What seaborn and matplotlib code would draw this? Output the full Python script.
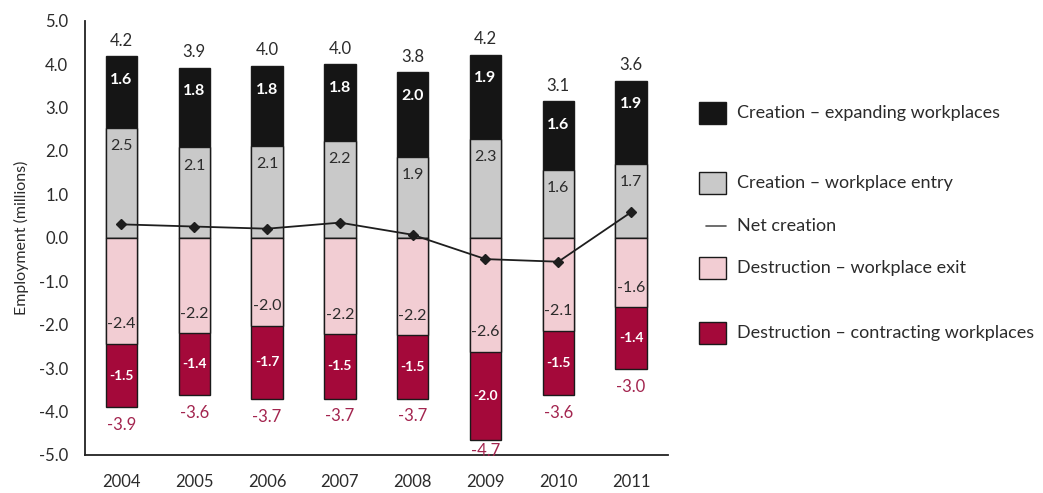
import matplotlib
matplotlib.use("Agg")
import matplotlib.pyplot as plt
from matplotlib.patches import Rectangle
from matplotlib.lines import Line2D
import numpy as np
import pandas as pd
import seaborn as sns

# Job flows by year (millions of jobs)
years = ["2004", "2005", "2006", "2007", "2008", "2009", "2010", "2011"]
creation_entry = [2.54, 2.08, 2.12, 2.24, 1.86, 2.28, 1.56, 1.70]
creation_expanding = [1.64, 1.84, 1.84, 1.76, 1.96, 1.94, 1.58, 1.92]
destruction_exit = [-2.44, -2.20, -2.03, -2.22, -2.24, -2.62, -2.14, -1.60]
destruction_contracting = [-1.46, -1.42, -1.68, -1.48, -1.46, -2.04, -1.48, -1.42]
net_creation = [0.31, 0.26, 0.21, 0.35, 0.07, -0.49, -0.55, 0.59]

legend_labels = [
    "Creation \u2013 expanding workplaces",
    "Creation \u2013 workplace entry",
    "Net creation",
    "Destruction \u2013 workplace exit",
    "Destruction \u2013 contracting workplaces",
]
y_ticks = [5.0, 4.0, 3.0, 2.0, 1.0, 0.0, -1.0, -2.0, -3.0, -4.0, -5.0]

BLACK = "#151515"
GREY = "#c9c9c9"
PINK = "#f2cdd3"
CRIMSON = "#a4093a"
NEG_TEXT = "#a3254f"
TEXT = "#2b2b2b"

sns.set_theme(style="white")
plt.rcParams["font.family"] = ["Lato", "DejaVu Sans"]

df = pd.DataFrame({
    "year": years,
    "entry": creation_entry,
    "expanding": creation_expanding,
    "exit": destruction_exit,
    "contracting": destruction_contracting,
    "net": net_creation,
})
df["pos_total"] = df["entry"] + df["expanding"]
df["neg_total"] = df["exit"] + df["contracting"]

fig = plt.figure(figsize=(10.43, 4.93), dpi=100)
ax = fig.add_axes([0.0815, 0.0771, 0.5585, 0.881])

bar_w = 0.43
edge = dict(edgecolor="#1a1a1a", linewidth=1.0)
# Stacks drawn as full totals, then the inner segment overlaid from zero
sns.barplot(data=df, x="year", y="pos_total", color=BLACK, width=bar_w,
            saturation=1, errorbar=None, ax=ax, **edge)
sns.barplot(data=df, x="year", y="entry", color=GREY, width=bar_w,
            saturation=1, errorbar=None, ax=ax, **edge)
sns.barplot(data=df, x="year", y="neg_total", color=CRIMSON, width=bar_w,
            saturation=1, errorbar=None, ax=ax, **edge)
sns.barplot(data=df, x="year", y="exit", color=PINK, width=bar_w,
            saturation=1, errorbar=None, ax=ax, **edge)

sns.pointplot(data=df, x="year", y="net", color="#1e1e1e", markers="D",
              markersize=5.5, linewidth=1.3, errorbar=None, ax=ax)

# Value labels
for i, row in df.iterrows():
    ax.text(i, row["pos_total"] + 0.17, f"{row['pos_total']:.1f}", ha="center",
            va="bottom", fontsize=12, color=TEXT)
    ax.text(i, row["pos_total"] - 0.55, f"{row['expanding']:.1f}", ha="center",
            va="center", fontsize=11.5, color="white", fontweight="bold")
    ax.text(i, row["entry"] - 0.42, f"{row['entry']:.1f}", ha="center",
            va="center", fontsize=11.5, color=TEXT)
    ax.text(i, row["exit"] + 0.45, f"{row['exit']:.1f}", ha="center",
            va="center", fontsize=11.5, color=TEXT)
    ax.text(i, row["exit"] + row["contracting"] / 2, f"{row['contracting']:.1f}",
            ha="center", va="center", fontsize=10, color="white",
            fontweight="bold")
    ax.text(i, max(row["neg_total"] - 0.22, -4.72), f"{row['neg_total']:.1f}",
            ha="center", va="top", fontsize=12, color=NEG_TEXT)

ax.set_xlim(-0.5, len(years) - 0.5)
ax.set_ylim(-5.0, 5.0)
ax.set_yticks(y_ticks)
ax.set_yticklabels([f"{v:.1f}" for v in y_ticks], fontsize=12, color=TEXT)
ax.set_xticks(range(len(years)))
ax.set_xticklabels(years, fontsize=12, color=TEXT)
ax.set_xticks(np.arange(-0.5, len(years)), minor=True)
ax.tick_params(axis="x", which="major", length=0, pad=14)
ax.tick_params(axis="x", which="minor", direction="out", length=5,
               width=1.2, color="#222222")
ax.tick_params(axis="y", which="major", direction="in", length=6,
               width=1.2, color="#222222", pad=12)
ax.set_xlabel("")
ax.set_ylabel("Employment (millions)", fontsize=11.5, color=TEXT, labelpad=7)
for side in ("top", "right"):
    ax.spines[side].set_visible(False)
for side in ("left", "bottom"):
    ax.spines[side].set_color("#222222")
    ax.spines[side].set_linewidth(1.3)

# Legend, drawn in figure coordinates
W, H = 1043.0, 493.0
legend_rows = [
    (113, "patch", BLACK),
    (183, "patch", GREY),
    (226, "line", "#555555"),
    (268, "patch", PINK),
    (333, "patch", CRIMSON),
]
for (yc, kind, col), lab in zip(legend_rows, legend_labels):
    if kind == "patch":
        fig.patches.append(Rectangle((699 / W, 1 - (yc + 11) / H), 27 / W, 22 / H,
                                     transform=fig.transFigure, facecolor=col,
                                     edgecolor="#1a1a1a", linewidth=1.0))
    else:
        fig.lines.append(Line2D([706 / W, 726 / W], [1 - yc / H, 1 - yc / H],
                                transform=fig.transFigure, color=col,
                                linewidth=1.2))
    fig.text(737 / W, 1 - yc / H, lab, ha="left", va="center",
             fontsize=13, color=TEXT)

fig.savefig("out.png", dpi=100, facecolor="white")
